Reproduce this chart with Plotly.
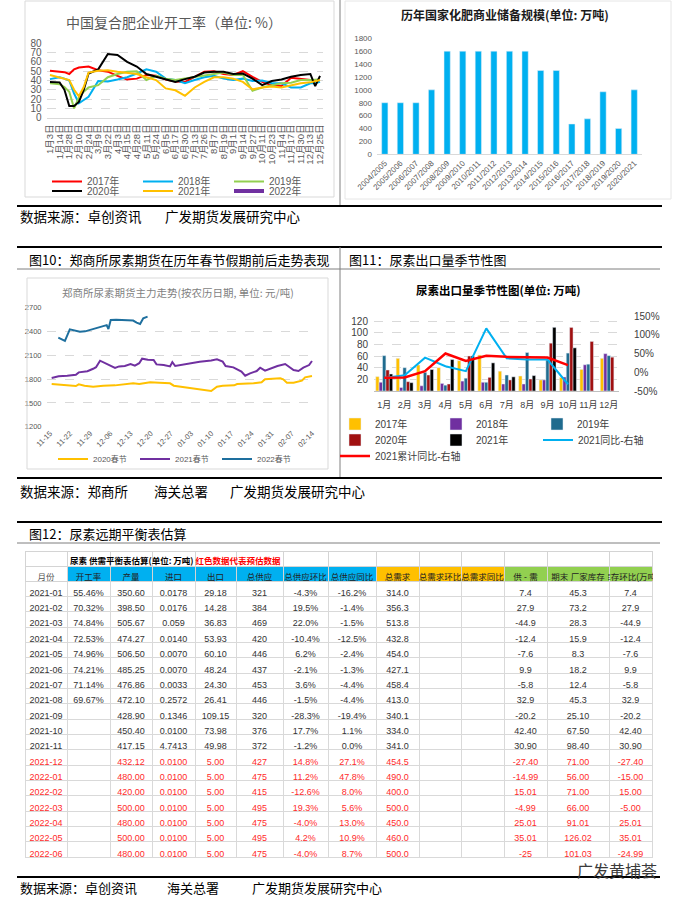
import plotly.graph_objects as go

W, H = 678, 897
def fx(px): return px / W
def fy(py): return 1 - py / H

CJK = "Noto Sans CJK SC"
SANS = "Liberation Sans, Arial, Noto Sans CJK SC"
GRAY = "#595959"
GRID = "#d9d9d9"

# ---------------- Chart 1: 中国复合肥企业开工率 ----------------
C1_TICK_LABELS = ["1月3日","1月14日","1月28日","2月10日","2月24日","3月9日","3月22日","4月3日",
                  "4月15日","4月28日","5月11日","5月24日","6月5日","6月17日","6月30日","7月13日",
                  "7月26日","8月7日","8月19日","9月1日","9月14日","9月27日","10月11日","10月23日",
                  "11月4日","11月17日","11月30日","12月13日","12月25日"]
C1_POS = [0, 1, 1.5, 2, 2.5, 3, 3.5, 4, 5, 6, 7, 8, 9, 10, 11, 12, 13, 14, 15, 16, 17, 18,
          19, 20, 21, 22, 23, 24, 25, 26, 27, 27.5, 28]
R2017 = [50.5, 50, 49, 47, 52, 54, 54.5, 55, 51, 49.5, 45, 41, 42, 46, 45, 41, 39, 38.5, 44, 49.5,
         50, 47, 46, 50, 44, 38.5, 35, 34, 43, 41.5, 40.5, 40.5, 40.5]
R2018 = [41.5, 43.5, 42, 40, 26, 15.5, 19, 22.5, 39.5, 39, 41, 43.5, 47.5, 52, 49.5, 42, 40.5, 37,
         40.5, 43.5, 45, 42, 40.5, 42, 39.5, 40, 37, 37, 32.5, 32.5, 37, 37, 38.5]
R2019 = [37, 36, 33, 28, 10, 22, 28, 32.5, 35, 43.5, 47, 49.5, 50, 40.5, 45, 42, 40.5, 42, 43.5, 45,
         47, 48.5, 46, 46, 29, 32.5, 35, 37, 37.5, 40.5, 40.5, 40.5, 41]
R2020 = [38.5, 38, 30, 12.5, 12.5, 17, 30, 47.5, 52, 68.5, 67.5, 60, 55, 47, 44, 41.5, 38.5, 41.5,
         44, 48.5, 49.5, 49.5, 47, 47.5, 42, 35, 39.5, 41, 44, 46, 47, 34, 45]
R2021 = [46, 43.5, 41.5, 40.5, 30, 23, 33, 48.5, 50.5, 51, 49.5, 48.5, 47, 43.5, 40.5, 31.5, 29.5,
         23.5, 32.5, 38.5, 43.5, 43.5, 42, 38.5, 30.5, 32.5, 33.5, 32.5, 35, 37, 38, 39, 40.5]
R2022 = [None]   # 2022 series has no plotted values yet (legend entry only)
C1_SERIES = [("2017年", R2017, "#FF0000", 2, "legend"),
             ("2018年", R2018, "#00B0F0", 2, "legend"),
             ("2019年", R2019, "#92D050", 2, "legend"),
             ("2020年", R2020, "#000000", 2, "legend2"),
             ("2021年", R2021, "#FFC000", 2, "legend2"),
             ("2022年", R2022, "#7030A0", 4, "legend2")]

# ---------------- Chart 2: 历年国家化肥商业储备规模 ----------------
C2_YEARS = ["2004/2005","2005/2006","2006/2007","2007/2008","2008/2009","2009/2010","2010/2011",
            "2011/2012","2012/2013","2013/2014","2014/2015","2015/2016","2016/2017","2017/2018",
            "2018/2019","2019/2020","2020/2021"]
C2_RESERVE = [800, 800, 800, 1000, 1600, 1600, 1600, 1600, 1600, 1600, 1300, 1300, 470, 550, 970, 400, 1000]

# ---------------- Chart 3: 郑商所尿素期货主力走势 ----------------
C3_TICK_LABELS = ["11-15","11-22","11-29","12-06","12-13","12-20","12-27","01-03","01-10",
                  "01-17","01-24","01-31","02-07","02-14"]
C3_TICK_DAYS = [0, 7, 14, 21, 28, 35, 42, 49, 56, 63, 70, 77, 84, 91]
S2020_DAY = [0.6, 3, 6, 8, 9, 10, 12, 15, 18.5, 22.6, 26, 28.9, 31, 34.8, 38, 41.7, 43, 56, 58, 60,
             64, 65, 70.7, 73.5, 74.7, 80, 81, 82.3, 84.6, 87.5, 88.6, 91]
S2020_VAL = [1738, 1730, 1728, 1722, 1713, 1734, 1715, 1705, 1717, 1721, 1730, 1747, 1738, 1759,
             1755, 1747, 1717, 1650, 1705, 1717, 1721, 1738, 1747, 1759, 1797, 1810, 1797, 1755,
             1755, 1780, 1822, 1839]
S2021_DAY = [0.6, 3, 6, 9, 10, 13, 15, 16, 17.4, 20, 22.6, 24, 26, 28, 29.5, 31, 32, 34, 36, 37,
             39.5, 41.7, 42.5, 43.5, 47.5, 52, 56, 58, 60, 61, 63.7, 65, 66.5, 67.8, 69.5, 71.8,
             73, 74.7, 77.6, 79, 81.7, 82.8, 84.6, 86.3, 88, 90, 91]
S2021_VAL = [1814, 1835, 1842, 1855, 1885, 1900, 1930, 1950, 2032, 1985, 1940, 1960, 1965, 1990,
             1970, 2000, 2057, 2045, 2040, 1985, 1977, 1960, 2015, 1965, 1990, 2020, 2035, 2049,
             2020, 1965, 1948, 1923, 1894, 1843, 1873, 1902, 1944, 1906, 1944, 1965, 1990, 1965,
             1915, 1902, 1944, 1977, 2028]
S2022_DAY = [2.9, 4.0, 5.2, 6.9, 8.5, 10.4, 12.2, 13.9, 16.0, 18.0, 19.7, 20.3, 21.1, 23.0, 25.0,
             26.6, 27.8, 28.9, 30.1, 31.3, 32.4, 33.9]
S2022_VAL = [2322, 2300, 2282, 2427, 2415, 2398, 2402, 2420, 2440, 2460, 2480, 2430, 2545, 2548,
             2542, 2545, 2532, 2538, 2511, 2494, 2566, 2587]

# ---------------- Chart 4: 尿素出口量季节性图 ----------------
C4_MONTHS = ["1月","2月","3月","4月","5月","6月","7月","8月","9月","10月","11月","12月"]
EXP2017 = [24.6, 56, 44.6, 40, 52, 61.7, 34, 25.7, 19, 23, 37, 56]
EXP2018 = [15, 6, 9, 13, 17, 15, 12, 12, 19, 24, 45, 64]
EXP2019 = [60.6, 40, 32, 10, 22, 15, 27.4, 66, 53, 65, 46, 60.6]
EXP2020 = [36, 16, 27.4, 12, 60, 23.4, 19, 20.6, 82, 109, 85, 58]
EXP2021 = [29.18, 14.28, 36.83, 53.93, 60.10, 48.24, 24.30, 26.41, 109.15, 73.98, None, None]
YOY2021 = [-0.15, -0.08, 0.39, 0.16, 0.03, 1.17, 0.37, 0.34, 0.34, -0.32]
CUM2021 = [-0.15, -0.14, 0.03, 0.50, 0.30, 0.44, 0.41, 0.41, 0.39, 0.19]

# ---------------- Table: 尿素远期平衡表估算 ----------------
NB = "\u00a0"
T_HEADERS = ["月份","开工率","产量","进口","出口","总供应","总供应环比","总供应同比","总需求",
             "总需求环比","总需求同比","供" + NB + "-" + NB + "需","期末" + NB + "厂家库存",
             "库存环比(万吨)"]
T_MONTH = ["2021-01","2021-02","2021-03","2021-04","2021-05","2021-06","2021-07","2021-08",
           "2021-09","2021-10","2021-11","2021-12","2022-01","2022-02","2022-03","2022-04",
           "2022-05","2022-06"]
T_RATE = ["55.46%","70.32%","74.84%","72.53%","74.96%","74.21%","71.14%","69.67%",
          "","","","","","","","","",""]
T_OUTPUT = ["350.60","398.50","505.67","474.27","506.50","485.25","476.86","472.10","428.90",
            "450.40","417.15","432.12","480.00","420.00","500.00","480.00","500.00","480.00"]
T_IMPORT = ["0.0178","0.0176","0.059","0.0140","0.0070","0.0070","0.0033","0.2572","0.1346",
            "0.0100","4.7413","0.0100","0.0100","0.0100","0.0100","0.0100","0.0100","0.0100"]
T_EXPORT = ["29.18","14.28","36.83","53.93","60.10","48.24","24.30","26.41","109.15","73.98",
            "49.98","5.00","5.00","5.00","5.00","5.00","5.00","5.00"]
T_SUPPLY = ["321","384","469","420","446","437","453","446","320","376","372","427","475",
            "415","495","475","495","475"]
T_SUP_MOM = ["-4.3%","19.5%","22.0%","-10.4%","6.2%","-2.1%","3.6%","-1.5%","-28.3%","17.7%",
             "-1.2%","14.8%","11.2%","-12.6%","19.3%","-4.0%","4.2%","-4.0%"]
T_SUP_YOY = ["-16.2%","-1.4%","-1.5%","-12.5%","-2.4%","-1.3%","-4.4%","-4.4%","-19.4%","1.1%",
             "0.0%","27.1%","47.8%","8.0%","5.6%","13.0%","10.9%","8.7%"]
T_DEMAND = ["314.0","356.3","513.8","432.8","454.0","427.1","458.4","413.0","340.1","334.0",
            "341.0","454.5","490.0","400.0","500.0","450.0","460.0","500.0"]
T_DEM_MOM = [""] * 18
T_DEM_YOY = [""] * 18
T_BALANCE = ["7.4","27.9","-44.9","-12.4","-7.6","9.9","-5.8","32.9","-20.2","42.40","30.90",
             "-27.40","-14.99","15.01","-4.99","25.01","35.01","-25"]
T_STOCK = ["45.3","73.2","28.3","15.9","8.3","18.2","12.4","45.3","25.10","67.50","98.40",
           "71.00","56.00","71.00","66.00","91.01","126.02","101.03"]
T_STOCK_MOM = ["7.4","27.9","-44.9","-12.4","-7.6","9.9","-5.8","32.9","-20.2","42.40","30.90",
               "-27.40","-15.00","15.00","-5.00","25.01","35.01","-24.99"]
T_FIRST_FORECAST = 11
T_HEADER_FILLS = ["white"] + ["#00B0F0"] * 7 + ["#FFC000"] * 3 + ["#92D050"] * 3
T_COL_WIDTHS = [42, 43, 42, 43, 41, 47, 45, 48, 43, 42, 43, 43, 62, 43]

fig = go.Figure()

# Chart 1 traces
for name, vals, color, width, lg in C1_SERIES:
    fig.add_trace(go.Scatter(x=C1_POS[:len(vals)], y=vals, name=name, mode="lines",
                             line=dict(color=color, width=width), xaxis="x", yaxis="y",
                             legend=lg))

# Chart 2
fig.add_trace(go.Bar(x=C2_YEARS, y=C2_RESERVE, marker_color="#00B0F0", width=0.4,
                     xaxis="x2", yaxis="y2", showlegend=False))

# Chart 3
for name, d, v, color in [("2020春节", S2020_DAY, S2020_VAL, "#FFC000"),
                          ("2021春节", S2021_DAY, S2021_VAL, "#7030A0"),
                          ("2022春节", S2022_DAY, S2022_VAL, "#1E6F9E")]:
    fig.add_trace(go.Scatter(x=d, y=v, name=name, mode="lines", line=dict(color=color, width=2),
                             xaxis="x3", yaxis="y3", legend="legend3"))

# Chart 4
for name, vals, color, lg in [("2017年", EXP2017, "#FFC000", "legend4"),
                              ("2018年", EXP2018, "#7030A0", "legend4"),
                              ("2019年", EXP2019, "#1F6B8E", "legend4"),
                              ("2020年", EXP2020, "#A01010", "legend5"),
                              ("2021年", EXP2021, "#000000", "legend5")]:
    fig.add_trace(go.Bar(x=C4_MONTHS, y=vals, name=name, marker_color=color,
                         xaxis="x4", yaxis="y4", legend=lg))
fig.add_trace(go.Scatter(x=C4_MONTHS[:len(YOY2021)], y=YOY2021, name="2021同比-右轴", mode="lines",
                         line=dict(color="#00B0F0", width=2), xaxis="x4", yaxis="y5",
                         legend="legend7"))
fig.add_trace(go.Scatter(x=C4_MONTHS[:len(CUM2021)], y=CUM2021, name="2021累计同比-右轴",
                         mode="lines", line=dict(color="#FF0000", width=2.5), xaxis="x4",
                         yaxis="y5", legend="legend6"))

# Table
t_cols = [T_MONTH, T_RATE, T_OUTPUT, T_IMPORT, T_EXPORT, T_SUPPLY, T_SUP_MOM, T_SUP_YOY,
          T_DEMAND, T_DEM_MOM, T_DEM_YOY, T_BALANCE, T_STOCK, T_STOCK_MOM]
row_colors = ["#333333" if i < T_FIRST_FORECAST else "#FF2A2A" for i in range(len(T_MONTH))]
fig.add_trace(go.Table(
    domain=dict(x=[fx(25), fx(652)], y=[fy(869), fy(551)]),
    columnwidth=T_COL_WIDTHS,
    header=dict(values=[[" ", h] for h in T_HEADERS],
                fill=dict(color=[["white", c] for c in T_HEADER_FILLS]),
                line=dict(color="#d4d4d4", width=1),
                align="center",
                font=dict(family=SANS, size=8.5,
                          color=[["#222", "#555" if i == 0 else "#222"] for i in range(14)]),
                height=15),
    cells=dict(values=t_cols, fill=dict(color="white"), line=dict(color="#d9d9d9", width=1),
               align="center",
               font=dict(family=SANS, size=9, color=[row_colors for _ in range(14)]),
               height=15.35)))

def tickfont(size, color=GRAY):
    return dict(family=SANS, size=size, color=color)

legend_common = dict(orientation="h", xanchor="left", yanchor="middle",
                     bgcolor="rgba(0,0,0,0)", borderwidth=0, tracegroupgap=0,
                     entrywidthmode="pixels", itemclick=False, itemdoubleclick=False)
LF4 = dict(family=SANS, size=10, color="#404040")

fig.update_layout(
    width=W, height=H, autosize=False,
    margin=dict(l=0, r=0, t=0, b=0, autoexpand=False),
    paper_bgcolor="white", plot_bgcolor="rgba(0,0,0,0)",
    barmode="group", bargap=0.17, bargroupgap=0,
    font=dict(family=SANS, color=GRAY),
    # Chart 1
    xaxis=dict(domain=[fx(46.6), fx(323.4)], range=[-0.35, 28.35], tickmode="array",
               tickvals=list(range(len(C1_TICK_LABELS))), ticktext=C1_TICK_LABELS,
               tickangle=-90, tickfont=tickfont(9.5), showgrid=False, zeroline=False,
               showline=True, linecolor=GRID, ticks="", anchor="y", ticklabelstandoff=2,
               automargin=False),
    yaxis=dict(domain=[fy(117.7), fy(43.3)], range=[0, 80], tickvals=list(range(0, 81, 10)),
               showgrid=True, gridcolor=GRID, griddash="dash", zeroline=False,
               tickfont=tickfont(10), ticks="", anchor="x", ticklabelstandoff=4,
               automargin=False),
    # Chart 2
    xaxis2=dict(domain=[fx(377), fx(642)], tickangle=-45, tickfont=tickfont(8), showgrid=False,
                showline=True, linecolor=GRID, ticks="", anchor="y2", automargin=False),
    yaxis2=dict(domain=[fy(154.3), fy(38.3)], range=[0, 1800], tickvals=list(range(0, 1801, 200)),
                showgrid=False, zeroline=False, tickfont=tickfont(8), ticks="", anchor="x2",
                ticklabelstandoff=4, automargin=False),
    # Chart 3
    xaxis3=dict(domain=[fx(46.5), fx(316.3)], range=[-1.2, 92.5], tickmode="array",
                tickvals=C3_TICK_DAYS, ticktext=C3_TICK_LABELS, tickangle=-45,
                tickfont=tickfont(7.5), showgrid=False, zeroline=False, ticks="", anchor="y3",
                automargin=False),
    yaxis3=dict(domain=[fy(426.7), fy(307.7)], range=[1200, 2700],
                tickvals=list(range(1200, 2701, 300)), showgrid=True, gridcolor=GRID,
                griddash="dash", zeroline=False, tickfont=tickfont(7.5), ticks="", anchor="x3",
                ticklabelstandoff=4, automargin=False),
    # Chart 4
    xaxis4=dict(domain=[fx(374), fx(619)], tickfont=tickfont(9, "#404040"), tickangle=0,
                showgrid=False, showline=True, linecolor="#bfbfbf", ticks="", anchor="y4",
                ticklabelstandoff=5, automargin=False),
    yaxis4=dict(domain=[fy(391), fy(316)], range=[0, 128.57], tickvals=[20, 40, 60, 80, 100, 120],
                showgrid=True, gridcolor=GRID, griddash="dash", zeroline=False,
                tickfont=tickfont(10, "#404040"), ticks="", anchor="x4",
                ticklabelstandoff=5, automargin=False),
    yaxis5=dict(overlaying="y4", side="right", anchor="x4", range=[-0.5, 1.5],
                tickvals=[-0.5, 0, 0.5, 1.0, 1.5], ticktext=["-50%", "0%", "50%", "100%", "150%"],
                showgrid=False, zeroline=False, tickfont=tickfont(10, "#404040"),
                ticks="", ticklabelstandoff=14, automargin=False),
    legend=dict(x=fx(47), y=fy(181.5), entrywidth=46, font=dict(family=SANS, size=10, color=GRAY),
                **legend_common),
    legend2=dict(x=fx(47), y=fy(191), entrywidth=46, font=dict(family=SANS, size=10, color=GRAY),
                 **legend_common),
    legend3=dict(x=fx(53), y=fy(459), entrywidth=37, font=dict(family=SANS, size=8, color=GRAY),
                 **legend_common),
    legend4=dict(x=fx(335), y=fy(424), entrywidth=56, font=LF4, **legend_common),
    legend5=dict(x=fx(335), y=fy(440), entrywidth=56, font=LF4, **legend_common),
    legend6=dict(x=fx(335), y=fy(456), font=LF4, **legend_common),
    legend7=dict(x=fx(538), y=fy(440), font=LF4, **legend_common),
)

# ---------------- Shapes (frames and page rules) ----------------
shapes = []
def hline(y, x0, x1, color="#000000", width=2):
    shapes.append(dict(type="line", xref="paper", yref="paper", x0=fx(x0), x1=fx(x1),
                       y0=fy(y), y1=fy(y), line=dict(color=color, width=width)))
def vline(x, y0, y1, color="#808080", width=1):
    shapes.append(dict(type="line", xref="paper", yref="paper", x0=fx(x), x1=fx(x),
                       y0=fy(y0), y1=fy(y1), line=dict(color=color, width=width)))
def frame(x0, y0, x1, y1, color="#d9d9d9"):
    shapes.append(dict(type="rect", xref="paper", yref="paper", x0=fx(x0), x1=fx(x1),
                       y0=fy(y1), y1=fy(y0), line=dict(color=color, width=1)))

frame(25, 1, 334, 197)
frame(345, 1, 671, 199, "#e6e6e6")
vline(340, 0, 206)
hline(206, 17, 662)
hline(247, 17, 662)
hline(269, 17, 660, "#7f7f7f", 1)
vline(340, 247, 478)
frame(27, 278, 328, 469)
hline(478, 17, 662)
hline(522, 17, 662)
hline(543, 17, 660, "#7f7f7f", 1)
hline(877, 17, 660)
fig.update_layout(shapes=shapes)

# ---------------- Annotations (titles, captions) ----------------
ann = []
def text(x, y, s, size, color="#000000", family=CJK, xanchor="left", bold=False):
    ann.append(dict(x=fx(x), y=fy(y), xref="paper", yref="paper", text=f"<b>{s}</b>" if bold else s,
                    showarrow=False, xanchor=xanchor, yanchor="middle",
                    font=dict(family=family, size=size, color=color)))

text(174, 22, "中国复合肥企业开工率（单位: %）", 14, "#595959", xanchor="center")
text(505, 15, "历年国家化肥商业储备规模(单位: 万吨)", 12, "#1a1a1a", xanchor="center", bold=True)
text(178, 292, "郑商所尿素期货主力走势(按农历日期, 单位: 元/吨)", 10.5, "#7f7f7f", xanchor="center")
text(498, 290, "尿素出口量季节性图(单位: 万吨)", 11.5, "#000000", xanchor="center", bold=True)

text(18, 216, "数据来源：卓创资讯", 13.5)
text(163, 216, "广发期货发展研究中心", 13.5)
text(27, 260, "图10：郑商所尿素期货在历年春节假期前后走势表现", 13)
text(347, 260, "图11：尿素出口量季节性图", 13)
text(18, 491, "数据来源：郑商所", 13.5)
text(152, 491, "海关总署", 13.5)
text(228, 491, "广发期货发展研究中心", 13.5)
text(27, 533, "图12：尿素远期平衡表估算", 13)
text(18, 887.5, "数据来源：卓创资讯", 13)
text(165, 887.5, "海关总署", 13)
text(250, 887.5, "广发期货发展研究中心", 13)

ann.append(dict(x=fx(68), y=fy(560), xref="paper", yref="paper", showarrow=False,
                xanchor="left", yanchor="middle",
                text="<b>尿素 供需平衡表估算(单位: 万吨)</b> <b><span style='color:#FF0000'>红色数据代表预估数据</span></b>",
                font=dict(family=CJK, size=8.5, color="#000000")))
text(617, 869.5, "广发黄埔荟", 16, "#3a3a3a", xanchor="center")
fig.update_layout(annotations=ann)

fig.write_html("out.html", config={"displayModeBar": False},
               post_script="document.body.style.margin='0';document.body.style.padding='0';"
                           "document.body.style.overflow='hidden';")
